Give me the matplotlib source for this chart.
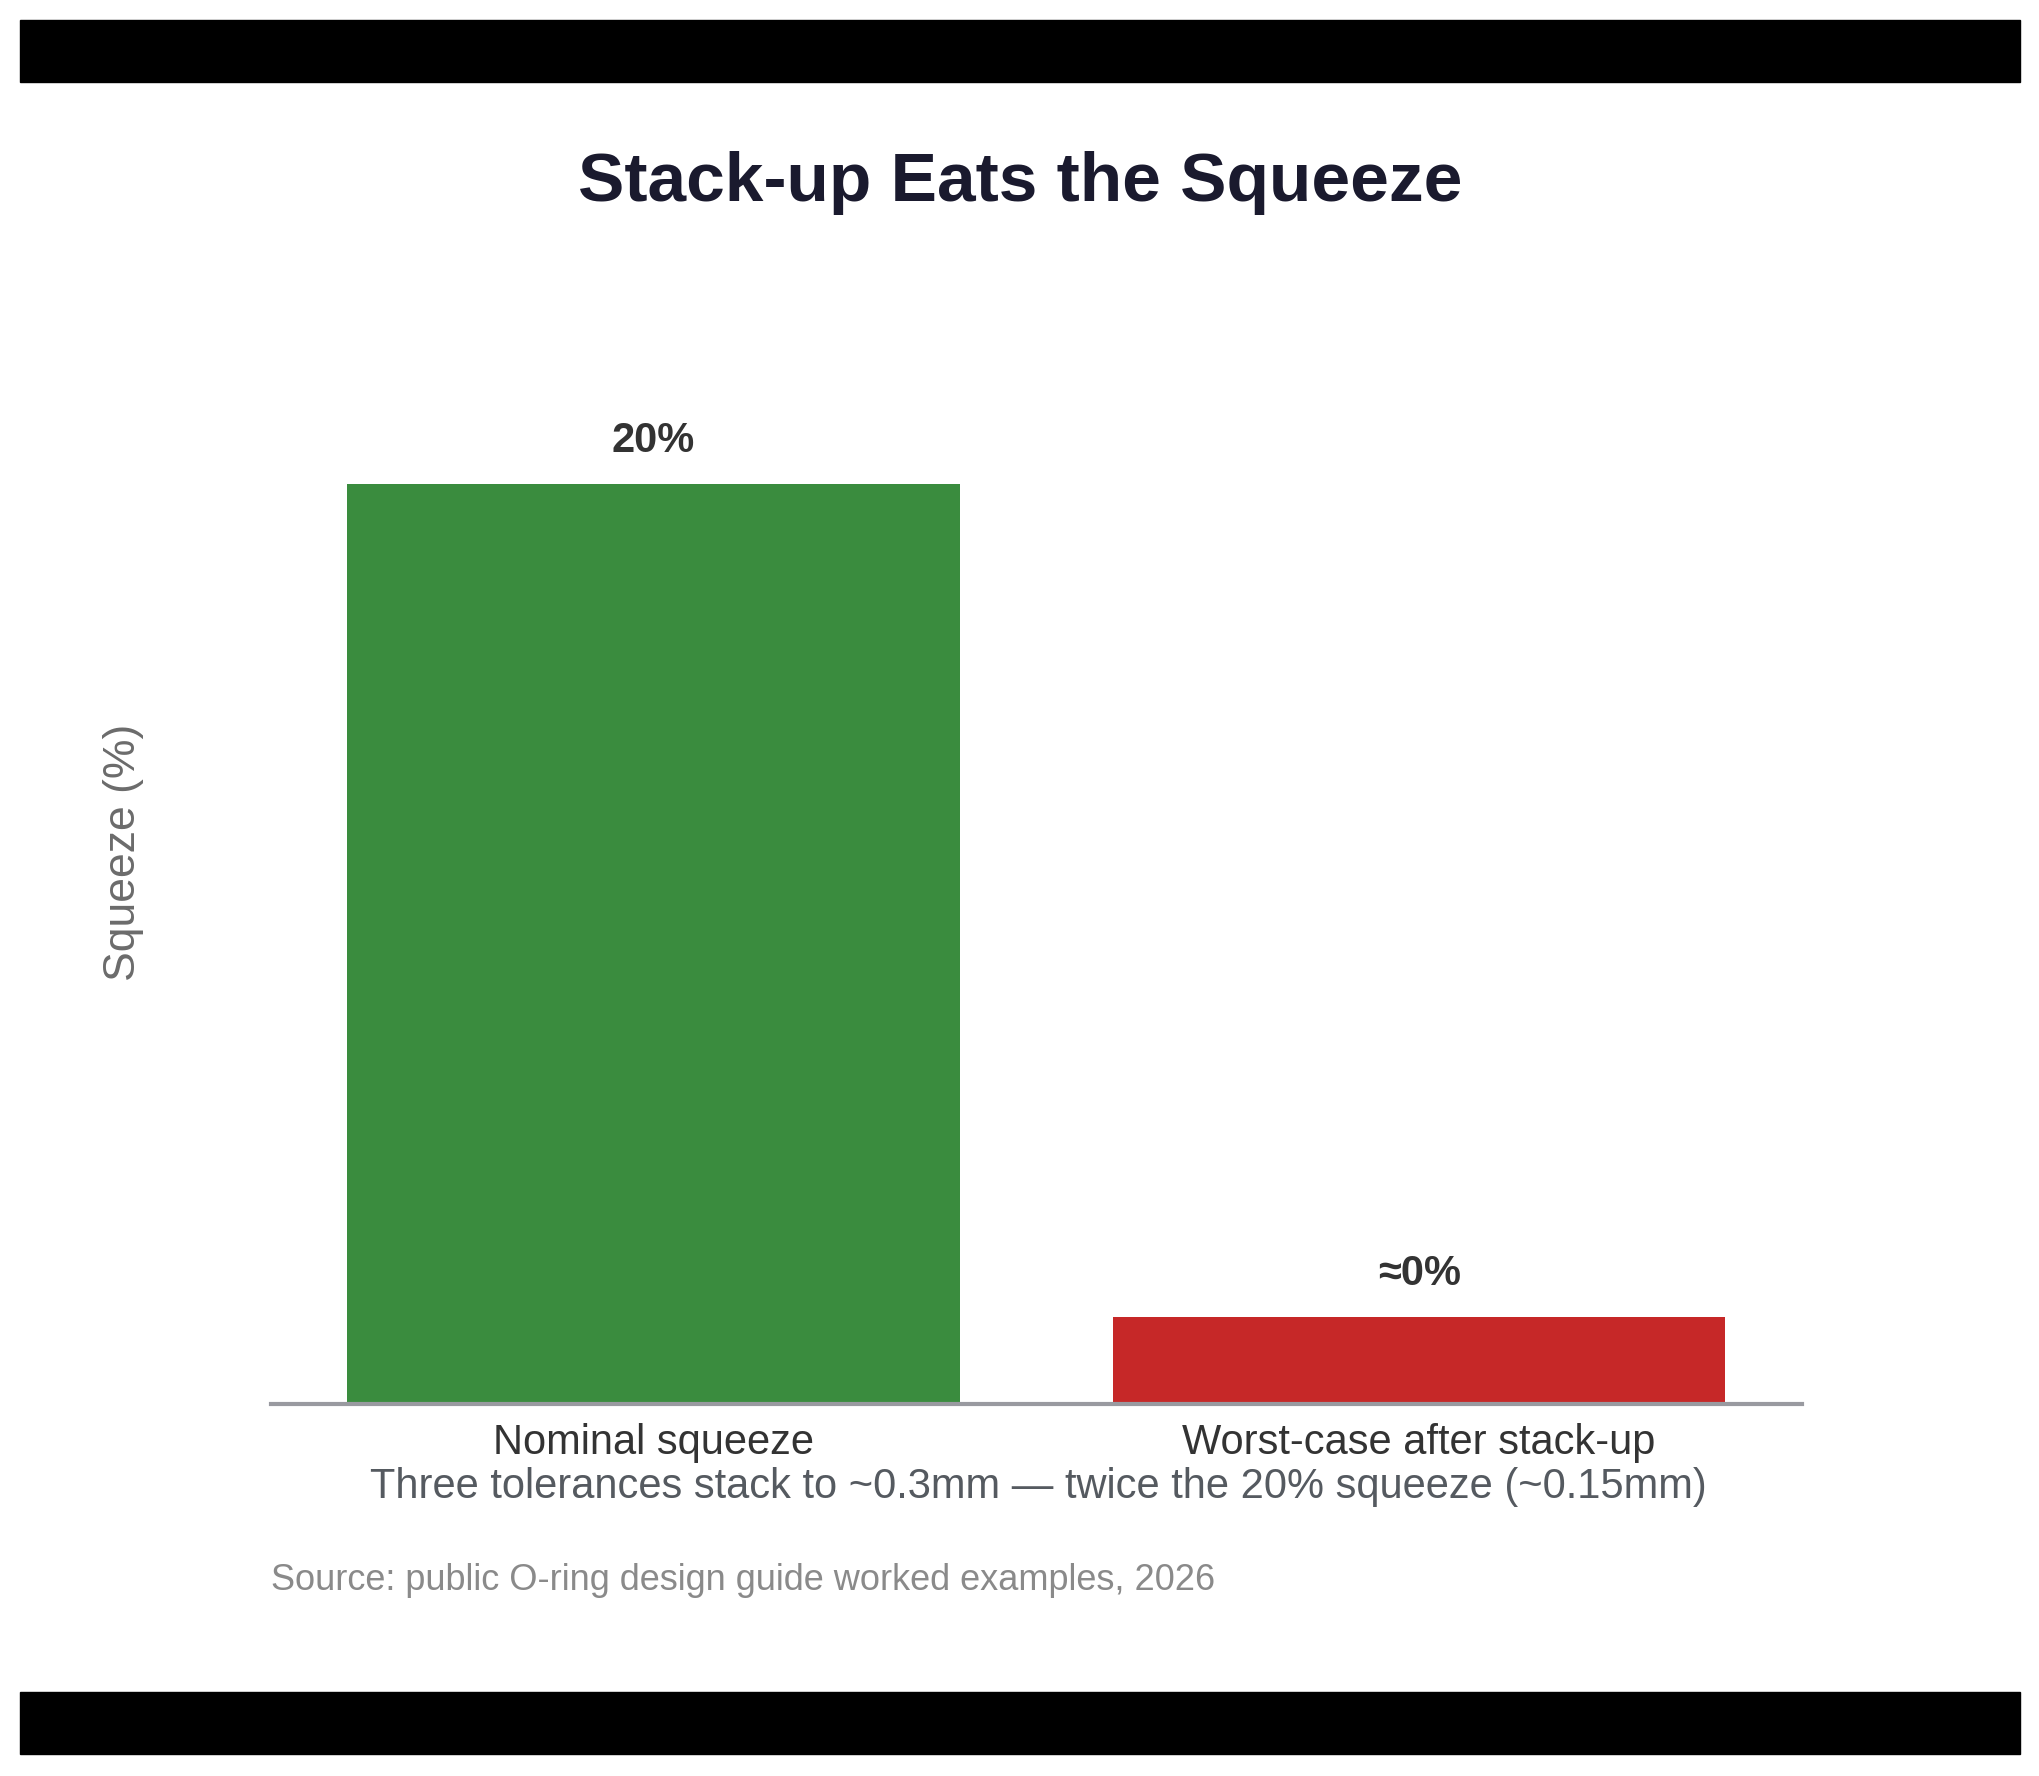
import matplotlib
matplotlib.use("Agg")
import matplotlib.pyplot as plt
from matplotlib.patches import Rectangle

categories = ["Nominal squeeze", "Worst-case after stack-up"]
values = [20, 1.9]
labels = ["20%", "≈0%"]
colors = ["#3a8c3e", "#c62828"]

plt.rcParams['font.family'] = ['Liberation Sans', 'DejaVu Sans']
fig = plt.figure(figsize=(20.4, 17.76), dpi=100)
fig.patches.append(Rectangle((0.0096, 0.954), 0.9808, 0.035, transform=fig.transFigure, color="black"))
fig.patches.append(Rectangle((0.0096, 0.0125), 0.9808, 0.035, transform=fig.transFigure, color="black"))

ax = fig.add_axes([0.1327, 0.2095, 0.7506, 0.6213])
x = list(range(len(categories)))
ax.bar(x, values, width=0.8, color=colors)
for xi, v, l in zip(x, values, labels):
    ax.text(xi, v + 0.5, l, ha="center", va="bottom", fontsize=30, fontweight="bold", color="#333333")
ax.set_xlim(-0.5, 1.5)
ax.set_ylim(0, 24)
ax.set_xticks(x)
ax.set_xticklabels(categories, fontsize=30, color="#333333")
ax.tick_params(axis="x", length=0, pad=14)
ax.set_yticks([])
for s in ["top", "right", "left"]:
    ax.spines[s].set_visible(False)
ax.spines["bottom"].set_color("#999aa0")
ax.spines["bottom"].set_linewidth(3)

fig.text(0.0606, 0.52, "Squeeze (%)", rotation=90, ha="center", va="center", fontsize=32, color="#6b6b6b")
fig.text(0.5, 0.897, "Stack-up Eats the Squeeze", ha="center", va="center", fontsize=50, fontweight="bold", color="#1a1a2e")
fig.text(0.509, 0.163, "Three tolerances stack to ~0.3mm — twice the 20% squeeze (~0.15mm)", ha="center", va="center", fontsize=30, color="#555a60")
fig.text(0.1327, 0.110, "Source: public O-ring design guide worked examples, 2026", ha="left", va="center", fontsize=26, color="#8a8a8a")

fig.savefig("out.png", dpi=100, facecolor="white")
